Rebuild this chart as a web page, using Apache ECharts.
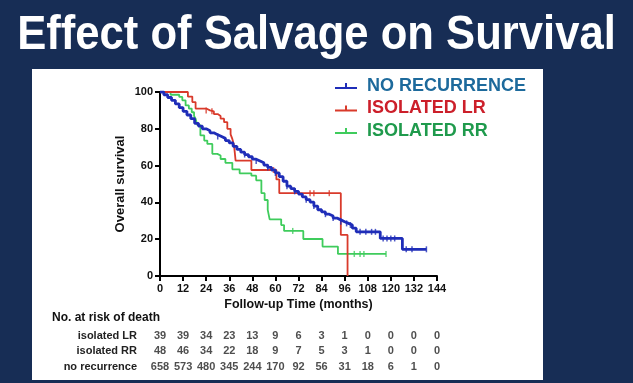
<!DOCTYPE html>
<html><head><meta charset="utf-8">
<script src="https://cdn.jsdelivr.net/npm/echarts/dist/echarts.min.js"></script>
<style>html,body{margin:0;padding:0;background:#172d55;}#c{width:633px;height:383px;}</style>
</head><body><div id="c"></div>
<script>
// ---- data ----
const titleText = 'Effect of Salvage on Survival';
const seriesNames = ['NO RECURRENCE', 'ISOLATED LR', 'ISOLATED RR'];
const xTicks = [0, 12, 24, 36, 48, 60, 72, 84, 96, 108, 120, 132, 144];
const yTicks = [0, 20, 40, 60, 80, 100];

// Kaplan-Meier steps: time at which survival becomes value
const noRecTime = [0, 2, 4, 6, 8, 10, 12, 14, 16, 18, 20, 22, 24, 26, 28, 30, 32, 34, 36, 38, 40, 42, 44, 46, 48, 50, 52, 54, 56, 58, 60, 62, 64, 66, 68, 70, 72, 74, 76, 78, 80, 82, 84, 86, 88, 90, 92, 94, 96, 98, 100, 102, 114.5, 126, 138.5];
const noRecSurv = [100, 98.5, 97, 95.5, 93.5, 91.5, 89.5, 87.5, 85.5, 83, 81.5, 80, 79, 77.8, 76.8, 75.8, 74.8, 73.6, 72.3, 70.5, 68.8, 67.3, 66, 64.8, 63.5, 62.5, 61.5, 60.3, 59, 57.6, 56, 54, 51.5, 48.8, 47.5, 46, 44.5, 43, 41.5, 40.2, 38, 36, 34.8, 33.6, 32.6, 31.5, 30.5, 29.5, 28.6, 27.7, 26, 24, 20.4, 14.5, 14.5];
const noRecCensorTime = [30, 44, 50, 56, 60, 66, 70, 76, 80, 86, 90, 94, 97, 99, 104, 107, 110, 112, 116, 118, 120, 122, 128, 131, 138.5];
const noRecCensorSurv = [75.8, 66, 62.5, 59, 56, 48.8, 46, 41.5, 38, 33.6, 31.5, 29.5, 28.6, 27.7, 24, 24, 24, 24, 20.4, 20.4, 20.4, 20.4, 14.5, 14.5, 14.5];

const lrTime = [0, 14.5, 16.8, 18.5, 24, 26, 28, 30, 31.5, 33.3, 35, 36.7, 37.6, 38.5, 39.3, 47.5, 60.5, 62, 94, 97.5];
const lrSurv = [100, 97.5, 94.5, 91, 90, 89.5, 88, 87, 85.5, 83.6, 80, 77, 74.5, 71, 62.7, 57.6, 52.5, 45, 22.3, 0];
const lrCensorTime = [24, 27, 59, 78, 80, 88];
const lrCensorSurv = [90, 89.5, 57.6, 45, 45, 45];

const rrTime = [0, 5.5, 10, 11.6, 13.3, 15, 16.5, 17.7, 18.5, 19.4, 21, 23, 24.6, 27.2, 29.8, 31.5, 34, 37.6, 41.4, 47.5, 50, 52.7, 54.4, 56, 57, 63, 64.5, 74.5, 84.5, 92.5, 117.5];
const rrSurv = [100, 98.5, 97.3, 95.5, 92.7, 91, 89, 87, 85.5, 82, 76.4, 73.6, 71.8, 66.4, 65.5, 63.6, 61.5, 58, 55.8, 54.5, 52, 45, 41.3, 35.9, 30.8, 27.7, 24.5, 20.1, 16, 12, 12];
const rrCensorTime = [69, 101, 104, 106, 117.5];
const rrCensorSurv = [24.5, 12, 12, 12, 12];

// numbers at risk
const riskRows = ['isolated LR', 'isolated RR', 'no recurrence'];
const riskLR = [39, 39, 34, 23, 13, 9, 6, 3, 1, 0, 0, 0, 0];
const riskRR = [48, 46, 34, 22, 18, 9, 7, 5, 3, 1, 0, 0, 0];
const riskNR = [658, 573, 480, 345, 244, 170, 92, 56, 31, 18, 6, 1, 0];

// ---- build ----
const FONT = "'Liberation Sans', Arial, Helvetica, sans-serif";
const zip = (a, b) => a.map((v, i) => [v, b[i]]);
const colors = { nr: '#1f2db8', lr: '#d93a2b', rr: '#3fcc5c' };
const riskData = [];
[riskLR, riskRR, riskNR].forEach((row, r) => row.forEach((v, i) => riskData.push([xTicks[i], r, v])));

const chart = echarts.init(document.getElementById('c'), null, { renderer: 'canvas' });
const axisText = { color: '#111', fontWeight: 'bold', fontSize: 11, fontFamily: FONT };
const tickMark = (name, t, s, col) => ({
  name: name, type: 'scatter', xAxisIndex: 0, yAxisIndex: 0,
  symbol: 'rect', symbolSize: [1.5, 6], itemStyle: { color: col },
  data: zip(t, s), silent: true, z: 4
});
chart.setOption({
  backgroundColor: '#172d55',
  animation: false,
  graphic: [
    { type: 'rect', z: -100, shape: { x: 32, y: 69, width: 511, height: 311 }, style: { fill: '#ffffff' } },
    { type: 'text', x: 316.5, y: 35, scaleX: 0.89, z: 10,
      style: { text: titleText, fill: '#ffffff', font: 'bold 49px ' + FONT, textAlign: 'center', textVerticalAlign: 'middle' } },
    { type: 'text', x: 52, y: 318, z: 10,
      style: { text: 'No. at risk of death', fill: '#111', font: 'bold 12px ' + FONT, textAlign: 'left', textVerticalAlign: 'middle' } }
  ],
  legend: {
    orient: 'vertical', left: 330, top: 72, itemWidth: 22, itemHeight: 8, itemGap: 4.5,
    icon: 'path://M0,6H22V8H0Z M10,2H12V8H10Z',
    textStyle: { fontSize: 18, fontWeight: 'bold', fontFamily: FONT, lineHeight: 18, padding: [0, 0, 0, 5] },
    data: [
      { name: seriesNames[0], textStyle: { color: '#1d6a9c' } },
      { name: seriesNames[1], textStyle: { color: '#cc1f2a' } },
      { name: seriesNames[2], textStyle: { color: '#1f9a4c' } }
    ]
  },
  grid: [
    { left: 160, top: 92, width: 277, height: 184 },
    { left: 160, top: 328, width: 277, height: 46.5 }
  ],
  xAxis: [
    { type: 'value', gridIndex: 0, min: 0, max: 144, interval: 12,
      name: 'Follow-up Time (months)', nameLocation: 'middle', nameGap: 22,
      nameTextStyle: { color: '#111', fontWeight: 'bold', fontSize: 12.5, fontFamily: FONT },
      axisLine: { lineStyle: { color: '#000', width: 2 } },
      axisTick: { length: 5, lineStyle: { color: '#000', width: 2 } },
      axisLabel: Object.assign({ margin: 7 }, axisText),
      splitLine: { show: false } },
    { type: 'value', gridIndex: 1, min: 0, max: 144, interval: 12, show: false }
  ],
  yAxis: [
    { type: 'value', gridIndex: 0, min: 0, max: 100, interval: 20,
      name: 'Overall survival', nameLocation: 'middle', nameGap: 33, nameRotate: 90,
      nameTextStyle: { color: '#111', fontWeight: 'bold', fontSize: 13, fontFamily: FONT },
      axisLine: { lineStyle: { color: '#000', width: 2 } },
      axisTick: { length: 5, lineStyle: { color: '#000', width: 2 } },
      axisLabel: Object.assign({ margin: 7 }, axisText),
      splitLine: { show: false } },
    { type: 'category', gridIndex: 1, data: riskRows, inverse: true,
      axisLine: { show: false }, axisTick: { show: false }, splitLine: { show: false },
      axisLabel: { margin: 23, color: '#222', fontWeight: 'bold', fontSize: 11, fontFamily: FONT } }
  ],
  series: [
    { name: seriesNames[2], type: 'line', step: 'end', symbol: 'none', data: zip(rrTime, rrSurv),
      lineStyle: { color: colors.rr, width: 1.8 }, itemStyle: { color: colors.rr }, z: 2 },
    tickMark('rr censored', rrCensorTime, rrCensorSurv, colors.rr),
    { name: seriesNames[1], type: 'line', step: 'end', symbol: 'none', data: zip(lrTime, lrSurv),
      lineStyle: { color: colors.lr, width: 1.8 }, itemStyle: { color: colors.lr }, z: 3 },
    tickMark('lr censored', lrCensorTime, lrCensorSurv, colors.lr),
    { name: seriesNames[0], type: 'line', step: 'end', symbol: 'none', data: zip(noRecTime, noRecSurv),
      lineStyle: { color: colors.nr, width: 2.8 }, itemStyle: { color: colors.nr }, z: 5 },
    tickMark('nr censored', noRecCensorTime, noRecCensorSurv, colors.nr),
    { name: 'at risk', type: 'scatter', xAxisIndex: 1, yAxisIndex: 1, symbolSize: 1,
      itemStyle: { color: 'rgba(0,0,0,0)' }, silent: true, data: riskData,
      label: { show: true, position: 'inside', formatter: p => String(p.value[2]),
        color: '#222', fontWeight: 'bold', fontSize: 11, fontFamily: FONT } }
  ]
});
</script></body></html>
